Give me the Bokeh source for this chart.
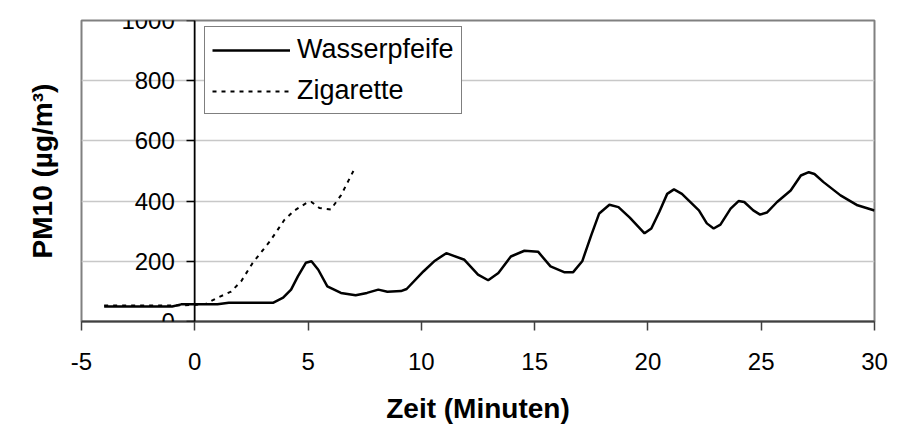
from bokeh.plotting import figure
from bokeh.models import Range1d, Legend, LegendItem, Title, FixedTicker, PrintfTickFormatter, Span
from bokeh.embed import file_html
from bokeh.resources import INLINE

# Data (time in minutes, PM10 in µg/m³)
wasser_t = [-4, -3, -2, -1, -0.6, 0, 1.0, 1.5, 2, 3, 3.45, 3.9, 4.25, 4.55, 4.9, 5.15, 5.45, 5.85,
            6.45, 7.1, 7.6, 8.1, 8.5, 9.1, 9.35, 10.1, 10.6, 11.1, 11.9, 12.5, 12.95, 13.4, 13.95,
            14.55, 15.15, 15.7, 16.3, 16.7, 17.1, 17.5, 17.85, 18.3, 18.7, 19.2, 19.85, 20.15, 20.5,
            20.85, 21.15, 21.5, 22.25, 22.6, 22.9, 23.2, 23.65, 24.0, 24.25, 24.65, 24.95, 25.25,
            25.7, 26.3, 26.75, 27.1, 27.35, 27.75, 28.5, 29.25, 30]
wasser_v = [50, 50, 50, 50, 57, 57, 57, 62, 62, 62, 62, 79, 106, 150, 195, 200, 172, 117,
            95, 87, 95, 106, 99, 101, 108, 167, 202, 227, 205, 156, 137, 161, 216,
            235, 232, 183, 164, 164, 200, 287, 359, 388, 380, 345, 293, 309, 364,
            424, 439, 424, 369, 326, 309, 322, 375, 400, 397, 369, 355, 362,
            397, 435, 485, 496, 490, 463, 419, 386, 369]

ziga_t = [-4, -3, -2, -1, 0, 0.5, 1.0, 1.6, 2.05, 2.55, 2.95, 3.3, 3.6, 3.95, 4.4, 5.0, 5.15,
          5.5, 6.0, 6.45, 7.0]
ziga_v = [53, 53, 53, 53, 55, 59, 79, 99, 134, 194, 232, 265, 298, 337, 369, 397, 397,
          377, 372, 419, 500]

x_ticks = [-5, 0, 5, 10, 15, 20, 25, 30]
y_ticks = [0, 200, 400, 600, 800, 1000]

FONT = "Liberation Sans"

p = figure(width=890, height=426, output_backend="svg", toolbar_location=None,
           x_range=Range1d(-5, 30), y_range=Range1d(0, 1000),
           min_border_left=80, min_border_right=16, min_border_top=20, min_border_bottom=102)

p.outline_line_color = "#808080"
p.outline_line_width = 2
p.background_fill_color = "white"
p.border_fill_color = "white"

# grid
p.xgrid.visible = False
p.ygrid.ticker = FixedTicker(ticks=y_ticks)
p.ygrid.grid_line_color = "#c8c8c8"
p.ygrid.grid_line_width = 1.5

# x axis
xa = p.xaxis[0]
xa.ticker = FixedTicker(ticks=x_ticks)
xa.formatter = PrintfTickFormatter(format="%d")
xa.axis_line_color = "#404040"
xa.axis_line_width = 2
xa.major_tick_line_color = "#404040"
xa.major_tick_line_width = 1.5
xa.major_tick_out = 9
xa.major_tick_in = 0
xa.minor_tick_line_color = None
xa.major_label_text_font = FONT
xa.major_label_text_font_size = "24px"
xa.major_label_text_color = "black"
xa.major_label_standoff = 22
xa.axis_label = "Zeit (Minuten)"
xa.axis_label_text_font = FONT
xa.axis_label_text_font_size = "28px"
xa.axis_label_text_font_style = "bold"
xa.axis_label_text_color = "black"
xa.axis_label_standoff = 20

# y axis crossing at x = 0
ya = p.yaxis[0]
ya.fixed_location = 0
ya.ticker = FixedTicker(ticks=y_ticks)
ya.formatter = PrintfTickFormatter(format="%d")
ya.axis_line_color = "black"
ya.axis_line_width = 1.5
ya.major_tick_line_color = "black"
ya.major_tick_line_width = 1.5
ya.major_tick_out = 8
ya.major_tick_in = 0
ya.minor_tick_line_color = None
ya.major_label_text_font = FONT
ya.major_label_text_font_size = "24px"
ya.major_label_text_color = "black"
ya.major_label_standoff = 12

p.add_layout(Span(location=0, dimension="height", line_color="black", line_width=1.2))

p.add_layout(Title(text="PM10 (µg/m³)", text_font=FONT, text_font_size="28px",
                   text_font_style="bold", align="center", text_color="black",
                   standoff=48), "left")

r1 = p.line(wasser_t, wasser_v, line_color="black", line_width=2.5)
r2 = p.line(ziga_t, ziga_v, line_color="black", line_width=2, line_dash="4 5")

legend = Legend(items=[LegendItem(label="Wasserpfeife", renderers=[r1]),
                       LegendItem(label="Zigarette", renderers=[r2])],
                location=(123, 207))
legend.label_text_font = FONT
legend.label_text_font_size = "27px"
legend.label_text_color = "black"
legend.glyph_width = 78
legend.glyph_height = 30
legend.label_height = 30
legend.label_standoff = 7
legend.spacing = 10
legend.padding = 7
legend.margin = 0
legend.border_line_color = "black"
legend.border_line_width = 1.5
legend.background_fill_alpha = 1
p.add_layout(legend, "center")

open("out.html", "w").write(file_html(p, INLINE))
